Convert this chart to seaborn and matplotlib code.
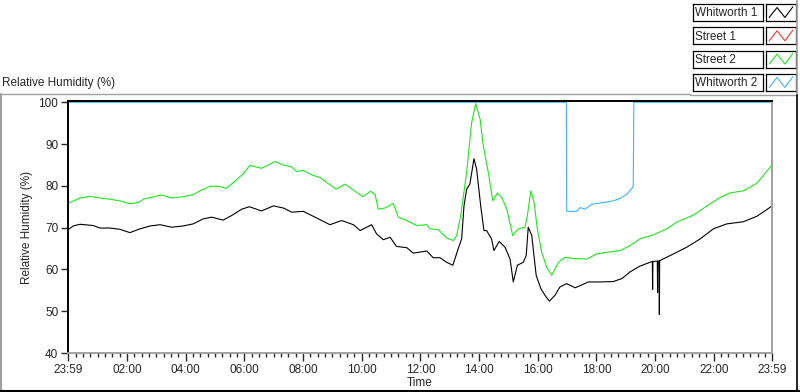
# Relative humidity over one day, LabVIEW-style waveform chart
import matplotlib
matplotlib.use("Agg")
import seaborn as sns
import matplotlib.pyplot as plt
import pandas as pd
from matplotlib.lines import Line2D

# time axis is hours after 23:59 of the previous day
w1_hours = [0, 0.18, 0.41, 0.86, 1.09, 1.43, 1.77, 2.11, 2.45, 2.8, 3.14, 3.53, 3.93, 4.27,
            4.61, 4.9, 5.29, 5.58, 5.92, 6.18, 6.6, 7.0, 7.34, 7.63, 8.02, 8.48, 8.93, 9.33,
            9.73, 9.96, 10.35, 10.52, 10.75, 10.98, 11.2, 11.55, 11.77, 12.23, 12.45, 12.68,
            12.91, 13.12, 13.3, 13.42, 13.5, 13.59, 13.7, 13.84, 13.93, 14.07, 14.18, 14.27,
            14.44, 14.52, 14.7, 14.9, 15.07, 15.18, 15.32, 15.52, 15.62, 15.69, 15.81, 15.96,
            16.12, 16.26, 16.41, 16.6, 16.77, 17.0, 17.29, 17.74, 18.14, 18.59, 18.88, 19.16,
            19.5, 19.84, 19.92, 19.93, 19.94, 20.09, 20.1, 20.11, 20.15, 20.16, 20.17, 20.64,
            21.09, 21.55, 22.0, 22.46, 23.02, 23.48, 23.76, 24.0]
w1_rh = [69.5, 70.4, 70.8, 70.5, 69.9, 69.9, 69.6, 68.8, 69.7, 70.4, 70.7, 70.1, 70.4, 70.9,
         72.1, 72.5, 71.8, 72.9, 74.4, 75.0, 74.0, 75.2, 74.7, 73.7, 73.9, 72.3, 70.7, 71.7,
         70.7, 69.3, 70.7, 68.5, 67.1, 67.7, 65.5, 65.2, 63.9, 64.4, 62.8, 62.8,
         61.7, 61.0, 64.9, 67.3, 75.2, 79.2, 80.4, 86.5, 84.0, 75.2, 69.3, 69.3,
         67.3, 64.5, 66.7, 65.3, 62.5, 57.0, 61.0, 61.7, 63.3, 70.1, 68.1, 58.6,
         55.4, 53.8, 52.4, 53.8, 55.8, 56.6, 55.6, 57.0, 57.0, 57.1, 57.8, 59.4,
         60.8, 61.7, 61.9, 55.2, 61.9, 62.0, 54.5, 62.0, 62.0, 49.2, 62.1, 63.7,
         65.3, 67.3, 69.7, 70.9, 71.4, 72.7, 74.0, 75.2]

s2_hours = [0, 0.41, 0.75, 1.09, 1.43, 1.77, 2.11, 2.39, 2.57, 2.91, 3.19, 3.53, 3.93, 4.27,
            4.5, 4.84, 5.13, 5.39, 5.64, 5.96, 6.2, 6.6, 7.06, 7.34, 7.63, 7.8, 8.02, 8.31,
            8.59, 8.82, 9.14, 9.44, 9.73, 10.05, 10.32, 10.47, 10.58, 10.81, 11.09, 11.26,
            11.55, 11.89, 12.23, 12.34, 12.63, 12.91, 13.14, 13.25, 13.39, 13.48, 13.59, 13.76,
            13.9, 14.05, 14.16, 14.33, 14.48, 14.64, 14.79, 14.96, 15.16, 15.35, 15.58, 15.66,
            15.78, 15.89, 16.0, 16.15, 16.32, 16.49, 16.72, 16.94, 17.23, 17.69, 18.03, 18.37,
            18.82, 19.16, 19.5, 19.96, 20.41, 20.75, 21.32, 21.78, 22.23, 22.57, 23.02, 23.48,
            23.7, 24.0]
s2_rh = [75.8, 77.1, 77.5, 77.1, 76.8, 76.4, 75.7, 76.0, 76.8, 77.4, 77.8, 77.1, 77.4, 77.9,
         78.8, 79.9, 79.9, 79.4, 80.8, 82.8, 84.9, 84.2, 85.8, 85.0, 84.5, 83.4, 83.7, 82.6,
         82.0, 80.8, 79.2, 80.4, 79.0, 77.4, 78.7, 77.9, 74.4, 74.7, 75.8, 72.5,
         71.7, 70.5, 70.7, 69.7, 69.5, 67.5, 66.9, 68.1, 72.9, 77.6, 83.2, 95.1,
         99.7, 95.9, 89.5, 83.2, 76.4, 78.3, 77.2, 74.4, 68.1, 69.7, 70.1, 72.9,
         78.8, 76.0, 69.7, 64.1, 60.5, 58.6, 61.7, 62.9, 62.6, 62.5, 63.7, 64.1,
         64.5, 65.7, 67.3, 68.3, 69.7, 71.3, 73.0, 75.2, 77.2, 78.3, 78.8, 80.6,
         82.4, 85.0]

w2_hours = [0, 16.99, 17.0, 17.34, 17.46, 17.63, 17.85, 18.25, 18.59, 18.82, 19.05, 19.27,
            19.29, 24.0]
w2_rh = [100, 100, 73.9, 73.9, 74.8, 74.4, 75.6, 76.0, 76.4, 77.0, 78.0, 79.8, 100, 100]

series_names = ["Whitworth 1", "Street 1", "Street 2", "Whitworth 2"]
series_colors = ["#000000", "#ff3030", "#1ee61e", "#3cb4ff"]

x_tick_labels = ["23:59", "02:00", "04:00", "06:00", "08:00", "10:00", "12:00",
                 "14:00", "16:00", "18:00", "20:00", "22:00", "23:59"]
y_ticks = [40, 50, 60, 70, 80, 90, 100]

# legend icon zigzag
icon_x = [0, 1, 2, 3]
icon_y = [0.15, 0.85, 0.15, 0.9]


def clock_to_hours(label, last=False):
    hh, mm = (int(p) for p in label.split(":"))
    if last:
        return 24.0
    return ((hh * 60 + mm - (23 * 60 + 59)) % 1440) / 60.0


sns.set_style("white")
plt.rcParams["font.family"] = ["Liberation Sans", "DejaVu Sans"]
plt.rcParams["font.size"] = 8

df = pd.concat([
    pd.DataFrame({"hours": w1_hours, "rh": w1_rh, "sensor": "Whitworth 1"}),
    pd.DataFrame({"hours": s2_hours, "rh": s2_rh, "sensor": "Street 2"}),
    pd.DataFrame({"hours": w2_hours, "rh": w2_rh, "sensor": "Whitworth 2"}),
], ignore_index=True)

W, H = 800, 392
fig = plt.figure(figsize=(W / 100, H / 100), dpi=100)
fig.patch.set_facecolor("white")


def px_rect(x0, y0, x1, y1):
    return [x0 / W, 1 - y1 / H, (x1 - x0) / W, (y1 - y0) / H]


ax = fig.add_axes(px_rect(68, 101, 772, 353))
sns.lineplot(data=df, x="hours", y="rh", hue="sensor",
             hue_order=["Whitworth 1", "Street 2", "Whitworth 2"],
             palette=dict(zip(series_names, series_colors)),
             estimator=None, lw=0.8, legend=False, ax=ax)

ax.set_xlim(0, 24)
ax.set_ylim(40, 100.3)
ax.set_yticks(y_ticks)
ax.set_yticklabels([str(v) for v in y_ticks])
major = [clock_to_hours(l, last=(i == len(x_tick_labels) - 1)) for i, l in enumerate(x_tick_labels)]
ax.set_xticks(major)
ax.set_xticklabels(x_tick_labels)
minor = [1 / 60 + 0.25 * k for k in range(96) if (k % 8) != 0 and 1 / 60 + 0.25 * k < 24]
ax.set_xticks(minor, minor=True)

ax.tick_params(axis="y", which="major", left=True, length=5, width=1, pad=2, labelsize=8.5)
ax.tick_params(axis="x", which="major", bottom=True, length=6, width=1, pad=2, labelsize=8.5)
ax.tick_params(axis="x", which="minor", bottom=True, length=3, width=1)

for side in ["left", "top"]:
    ax.spines[side].set_color("black")
    ax.spines[side].set_linewidth(1.4)
for side in ["right", "bottom"]:
    ax.spines[side].set_color("#a0a0a0")
    ax.spines[side].set_linewidth(1.4)

ax.set_xlabel("Time", fontsize=8.5, labelpad=1)
ax.set_ylabel("Relative Humidity (%)", fontsize=8.5, labelpad=4)

fig.text(2 / W, 1 - 83 / H, "Relative Humidity (%)", fontsize=8.5, va="center", ha="left")

# panel frame lines
grey = "#a0a0a0"
fig.add_artist(Line2D([0, 690 / W], [1 - 94 / H] * 2, color=grey, lw=1))
fig.add_artist(Line2D([690 / W, 797 / W], [1 - 95 / H] * 2, color=grey, lw=1))
fig.add_artist(Line2D([797 / W] * 2, [1, 1 - 95 / H], color=grey, lw=1.2))
fig.add_artist(Line2D([797 / W] * 2, [1 - 95 / H, 0], color="black", lw=1.2))
fig.add_artist(Line2D([0.6 / W] * 2, [0, 1 - 94 / H], color=grey, lw=1.5))
fig.add_artist(Line2D([0, 1], [1 / H] * 2, color="black", lw=1.5))

# legend: name box + zigzag icon box per series
for i, (name, color) in enumerate(zip(series_names, series_colors)):
    top = 4 + i * 23.3
    nax = fig.add_axes(px_rect(693, top, 763, top + 17))
    nax.set_xticks([])
    nax.set_yticks([])
    for s in nax.spines.values():
        s.set_color("black")
        s.set_linewidth(0.9)
    nax.text(0.03, 0.45, name, transform=nax.transAxes, va="center", ha="left", fontsize=8.5)

    iax = fig.add_axes(px_rect(766, top, 796, top + 17))
    sns.lineplot(x=icon_x, y=icon_y, color=color, lw=0.8, ax=iax)
    iax.set_xlim(-0.4, 3.4)
    iax.set_ylim(-0.1, 1.1)
    iax.set_xticks([])
    iax.set_yticks([])
    iax.set_xlabel("")
    iax.set_ylabel("")
    for s in iax.spines.values():
        s.set_color("black")
        s.set_linewidth(0.9)

fig.savefig("out.png", dpi=100)
